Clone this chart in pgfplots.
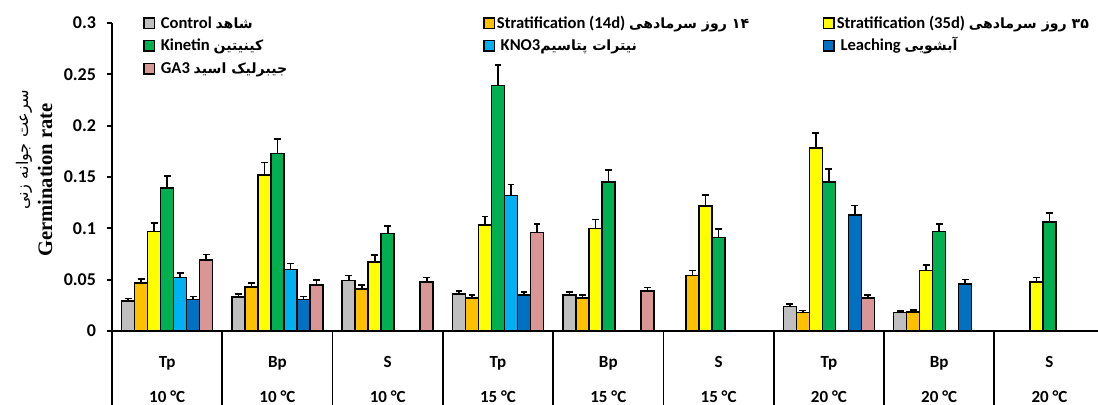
\documentclass[border=0pt]{standalone}
\usepackage{fontspec}
\setmainfont{Carlito}
\newfontfamily\arabicfont[Script=Arabic,Scale=0.85]{DejaVu Sans}
\newfontfamily\timesfont{Liberation Serif}
\usepackage{pgfplots}
\pgfplotsset{compat=1.18}
\TeXXeTstate=1
\definecolor{cgray}{HTML}{BFBFBF}
\definecolor{corange}{HTML}{FFC000}
\definecolor{cyellow}{HTML}{FFFF00}
\definecolor{cgreen}{HTML}{00B050}
\definecolor{ccyan}{HTML}{00B0F0}
\definecolor{cblue}{HTML}{0070C0}
\definecolor{cpink}{HTML}{DA9694}
\newcommand{\fa}[1]{{\arabicfont\beginR #1\endR}}
\newcommand{\legtxt}[1]{\makebox[162pt][l]{#1}}
\begin{document}
\begin{tikzpicture}
\useasboundingbox (-56pt,-37pt) rectangle (493pt,165.5pt);
\begin{axis}[
  scale only axis, width=493pt, height=154pt,
  xmin=-0.5, xmax=8.44, ymin=0, ymax=0.3,
  axis lines*=left,
  axis line style={line width=0.9pt, black},
  ytick={0,0.05,0.1,0.15,0.2,0.25,0.3},
  yticklabels={0,0.05,0.1,0.15,0.2,0.25,0.3},
  tick align=outside, major tick length=2.5pt,
  ytick style={line width=0.9pt, black},
  yticklabel style={font=\bfseries\fontsize{9}{10}\selectfont, xshift=-2pt},
  xtick={0,...,8},
  xticklabels={{Tp\\10 °C},{Bp\\10 °C},{S\\10 °C},{Tp\\15 °C},{Bp\\15 °C},{S\\15 °C},{Tp\\20 °C},{Bp\\20 °C},{S\\20 °C}},
  xtick style={draw=none},
  xticklabel style={align=center, font=\bfseries\fontsize{8.5}{17.5}\selectfont, anchor=center, yshift=-21.8pt},
  ybar=0pt, bar width=6.5pt,
  every axis plot/.append style={draw=black, line width=0.8pt},
  error bars/y dir=plus, error bars/y explicit,
  error bars/error bar style={line width=0.8pt, black},
  error bars/error mark options={rotate=90, mark size=1.7pt, line width=0.8pt, black},
  clip=false,
  legend columns=3,
  legend image code/.code={\draw[#1, draw=black, line width=0.7pt] (0pt,-2.6pt) rectangle (5.2pt,2.6pt);},
  legend style={at={(0.0314,1.037)}, anchor=north west, draw=none, fill=none, inner sep=0pt, row sep=0.4pt,
    font=\bfseries\fontsize{8.3}{9}\selectfont, nodes={inner sep=1pt, text height=7pt, text depth=2pt}},
  legend cell align=left,
]
\addplot[fill=cgray] coordinates {(0,0.029) +- (0,0.0027) (1,0.033) +- (0,0.003) (2,0.049) +- (0,0.0049) (3,0.036) +- (0,0.0032) (4,0.035) +- (0,0.003) (6,0.024) +- (0,0.0023) (7,0.018) +- (0,0.0016)};
\addplot[fill=corange] coordinates {(0,0.047) +- (0,0.0036) (1,0.043) +- (0,0.0035) (2,0.041) +- (0,0.0039) (3,0.032) +- (0,0.0032) (4,0.032) +- (0,0.003) (5,0.054) +- (0,0.0049) (6,0.018) +- (0,0.002) (7,0.0185) +- (0,0.0022)};
\addplot[fill=cyellow] coordinates {(0,0.097) +- (0,0.008) (1,0.152) +- (0,0.0123) (2,0.067) +- (0,0.0068) (3,0.103) +- (0,0.0084) (4,0.100) +- (0,0.0085) (5,0.122) +- (0,0.0104) (6,0.178) +- (0,0.0146) (7,0.059) +- (0,0.005) (8,0.048) +- (0,0.004)};
\addplot[fill=cgreen] coordinates {(0,0.139) +- (0,0.012) (1,0.173) +- (0,0.014) (2,0.095) +- (0,0.0075) (3,0.239) +- (0,0.020) (4,0.145) +- (0,0.012) (5,0.091) +- (0,0.0085) (6,0.145) +- (0,0.0127) (7,0.097) +- (0,0.0075) (8,0.106) +- (0,0.0088)};
\addplot[fill=ccyan] coordinates {(0,0.052) +- (0,0.0045) (1,0.060) +- (0,0.0058) (3,0.132) +- (0,0.0107)};
\addplot[fill=cblue] coordinates {(0,0.0305) +- (0,0.003) (1,0.0305) +- (0,0.003) (3,0.035) +- (0,0.003) (6,0.113) +- (0,0.0094) (7,0.046) +- (0,0.004)};
\addplot[fill=cpink] coordinates {(0,0.069) +- (0,0.0055) (1,0.045) +- (0,0.0045) (2,0.048) +- (0,0.0042) (3,0.096) +- (0,0.008) (4,0.039) +- (0,0.0033) (6,0.032) +- (0,0.003)};
\legend{\legtxt{ Control \fa{شاهد}},\legtxt{Stratification (14d) \fa{۱۴ روز سرمادهی}},\legtxt{Stratification (35d) \fa{۳۵ روز سرمادهی}},
  \legtxt{ Kinetin \fa{کینیتین}},\legtxt{ KNO3\fa{نیترات پتاسیم}},\legtxt{ Leaching \fa{آبشویی}},\legtxt{ GA3 \fa{جیبرلیک اسید}}}
\pgfplotsinvokeforeach{-0.5,0.5,1.5,2.5,3.5,4.5,5.5,6.5,7.5}{
  \draw[line width=0.9pt, black] (axis cs:#1,0) -- ++(0pt,-37pt);
}
\end{axis}
\node[rotate=90, font=\timesfont\bfseries\fontsize{10.3}{12}\selectfont] at (-33.5pt,75.5pt) {Germination rate};
\node[rotate=90, font=\fontsize{9.5}{11}\selectfont] at (-44pt,90.5pt) {\fa{سرعت جوانه زنی}};
\end{tikzpicture}
\end{document}
